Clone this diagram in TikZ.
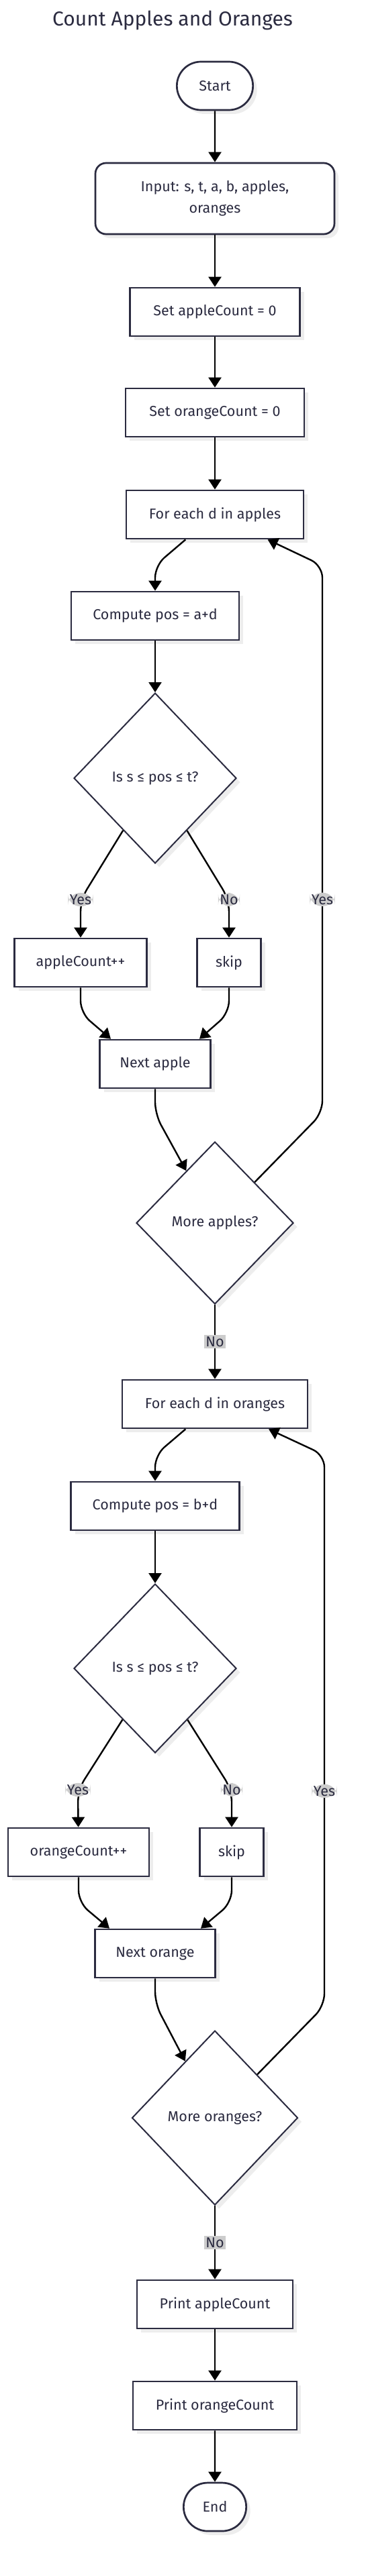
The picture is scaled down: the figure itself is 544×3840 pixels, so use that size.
\documentclass[tikz,border=0pt]{standalone}
\usepackage{fontspec}
\setmainfont{Fira Sans}
\usetikzlibrary{shapes.geometric, shapes.misc, arrows.meta, shadows, calc}
\definecolor{ink}{HTML}{2B2B40}
\definecolor{shade}{HTML}{EDEDED}
\begin{document}
\begin{tikzpicture}[
        x=1pt, y=-1pt,
        font=\fontsize{21.5}{26}\selectfont, text=ink,
        base/.style={draw=ink, fill=white, line width=2.7pt, drop shadow={shadow xshift=6pt, shadow yshift=-6pt, fill=shade, opacity=1}},
        term/.style={base, rounded rectangle, minimum height=72pt},
        inbox/.style={base, rectangle, rounded corners=16pt, minimum width=356pt, minimum height=106pt, align=center},
        proc/.style={base, rectangle, minimum height=72pt},
        decision/.style={base, diamond, line width=2pt, inner sep=0pt},
        lbl/.style={fill=gray!40, inner sep=2.5pt, text=ink},
        arr/.style={-{Triangle[width=19pt, length=15pt]}, line width=2.4pt, draw=black},
        loop/.style={arr, rounded corners=18pt}
    ]
        \useasboundingbox (0,0) rectangle (544,3840);

        % Title
        \node[font=\fontsize{30}{34}\selectfont] (title) at (257,30) {Count Apples and Oranges};

        % Setup
        \node[term, minimum width=120pt] (start) at (320,128) {Start};
        \node[inbox, font=\fontsize{21.5}{32}\selectfont] (input) at (320,296) {Input: s, t, a, b, apples,\\oranges};
        \node[proc, minimum width=253pt] (setA) at (320,465) {Set appleCount = 0};
        \node[proc, minimum width=266pt] (setO) at (320,615) {Set orangeCount = 0};

        % Apples loop
        \node[proc, minimum width=264pt] (forA) at (320,767) {For each d in apples};
        \node[proc, minimum width=250pt] (compA) at (231,918) {Compute pos = a+d};
        \node[decision, minimum width=242pt, minimum height=254pt] (dA) at (231,1160) {Is s ≤ pos ≤ t?};
        \node[proc, minimum width=197pt] (incA) at (120,1435) {appleCount++};
        \node[proc, minimum width=95pt] (skipA) at (341,1435) {skip};
        \node[proc, minimum width=165pt] (nextA) at (231,1586) {Next apple};
        \node[decision, minimum width=234pt, minimum height=242pt] (mA) at (320,1823) {More apples?};

        % Oranges loop
        \node[proc, minimum width=276pt] (forO) at (320,2093) {For each d in oranges};
        \node[proc, minimum width=251pt] (compO) at (231,2245) {Compute pos = b+d};
        \node[decision, minimum width=242pt, minimum height=252pt] (dO) at (231,2487) {Is s ≤ pos ≤ t?};
        \node[proc, minimum width=210pt] (incO) at (117,2761) {orangeCount++};
        \node[proc, minimum width=95pt] (skipO) at (345,2761) {skip};
        \node[proc, minimum width=179pt] (nextO) at (231,2912) {Next orange};
        \node[decision, minimum width=247pt, minimum height=260pt] (mO) at (320,3157) {More oranges?};

        % Output
        \node[proc, minimum width=232pt] (prA) at (320,3435) {Print appleCount};
        \node[proc, minimum width=244pt] (prO) at (320,3586) {Print orangeCount};
        \node[term, minimum width=100pt] (stop) at (320,3737) {End};

        % Bends
        \coordinate (cA1) at (231,843);
        \coordinate (yA) at (120,1341);
        \coordinate (nA) at (341,1341);
        \coordinate (cA2) at (120,1510);
        \coordinate (cA3) at (341,1510);
        \coordinate (cA4) at (231,1661);
        \coordinate (lA1) at (480,1659);
        \coordinate (lA2) at (480,843);

        \coordinate (cO1) at (231,2169);
        \coordinate (yO) at (116,2668);
        \coordinate (nO) at (345,2668);
        \coordinate (cO2) at (117,2836);
        \coordinate (cO3) at (345,2836);
        \coordinate (cO4) at (231,2987);
        \coordinate (lO1) at (483,2990);
        \coordinate (lO2) at (483,2169);

        % Connections
        \draw[arr] (start) -- (input);
        \draw[arr] (input) -- (setA);
        \draw[arr] (setA) -- (setO);
        \draw[arr] (setO) -- (forA);
        \draw[loop] (forA) -- (cA1) -- (compA);
        \draw[arr] (compA) -- (dA);
        \draw[loop] (dA) -- (yA) node[lbl] (lyA) {Yes} -- (incA);
        \draw[loop] (dA) -- (nA) node[lbl] (lnA) {No} -- (skipA);
        \draw[loop] (incA) -- (cA2) -- ($(nextA.north)+(-66,0)$);
        \draw[loop] (skipA) -- (cA3) -- ($(nextA.north)+(66,0)$);
        \draw[loop] (nextA) -- (cA4) -- (mA);
        \draw[loop] (mA) -- (lA1) -- node[lbl, pos=0.39] (lyA2) {Yes} (lA2) -- (forA);
        \draw[arr] (mA) -- node[lbl] (lnA2) {No} (forO);

        \draw[loop] (forO) -- (cO1) -- (compO);
        \draw[arr] (compO) -- (dO);
        \draw[loop] (dO) -- (yO) node[lbl] (lyO) {Yes} -- (incO);
        \draw[loop] (dO) -- (nO) node[lbl] (lnO) {No} -- (skipO);
        \draw[loop] (incO) -- (cO2) -- ($(nextO.north)+(-68,0)$);
        \draw[loop] (skipO) -- (cO3) -- ($(nextO.north)+(68,0)$);
        \draw[loop] (nextO) -- (cO4) -- (mO);
        \draw[loop] (mO) -- (lO1) -- node[lbl, pos=0.39] (lyO2) {Yes} (lO2) -- (forO);
        \draw[arr] (mO) -- node[lbl] (lnO2) {No} (prA);

        \draw[arr] (prA) -- (prO);
        \draw[arr] (prO) -- (stop);
    \end{tikzpicture}
\end{document}
